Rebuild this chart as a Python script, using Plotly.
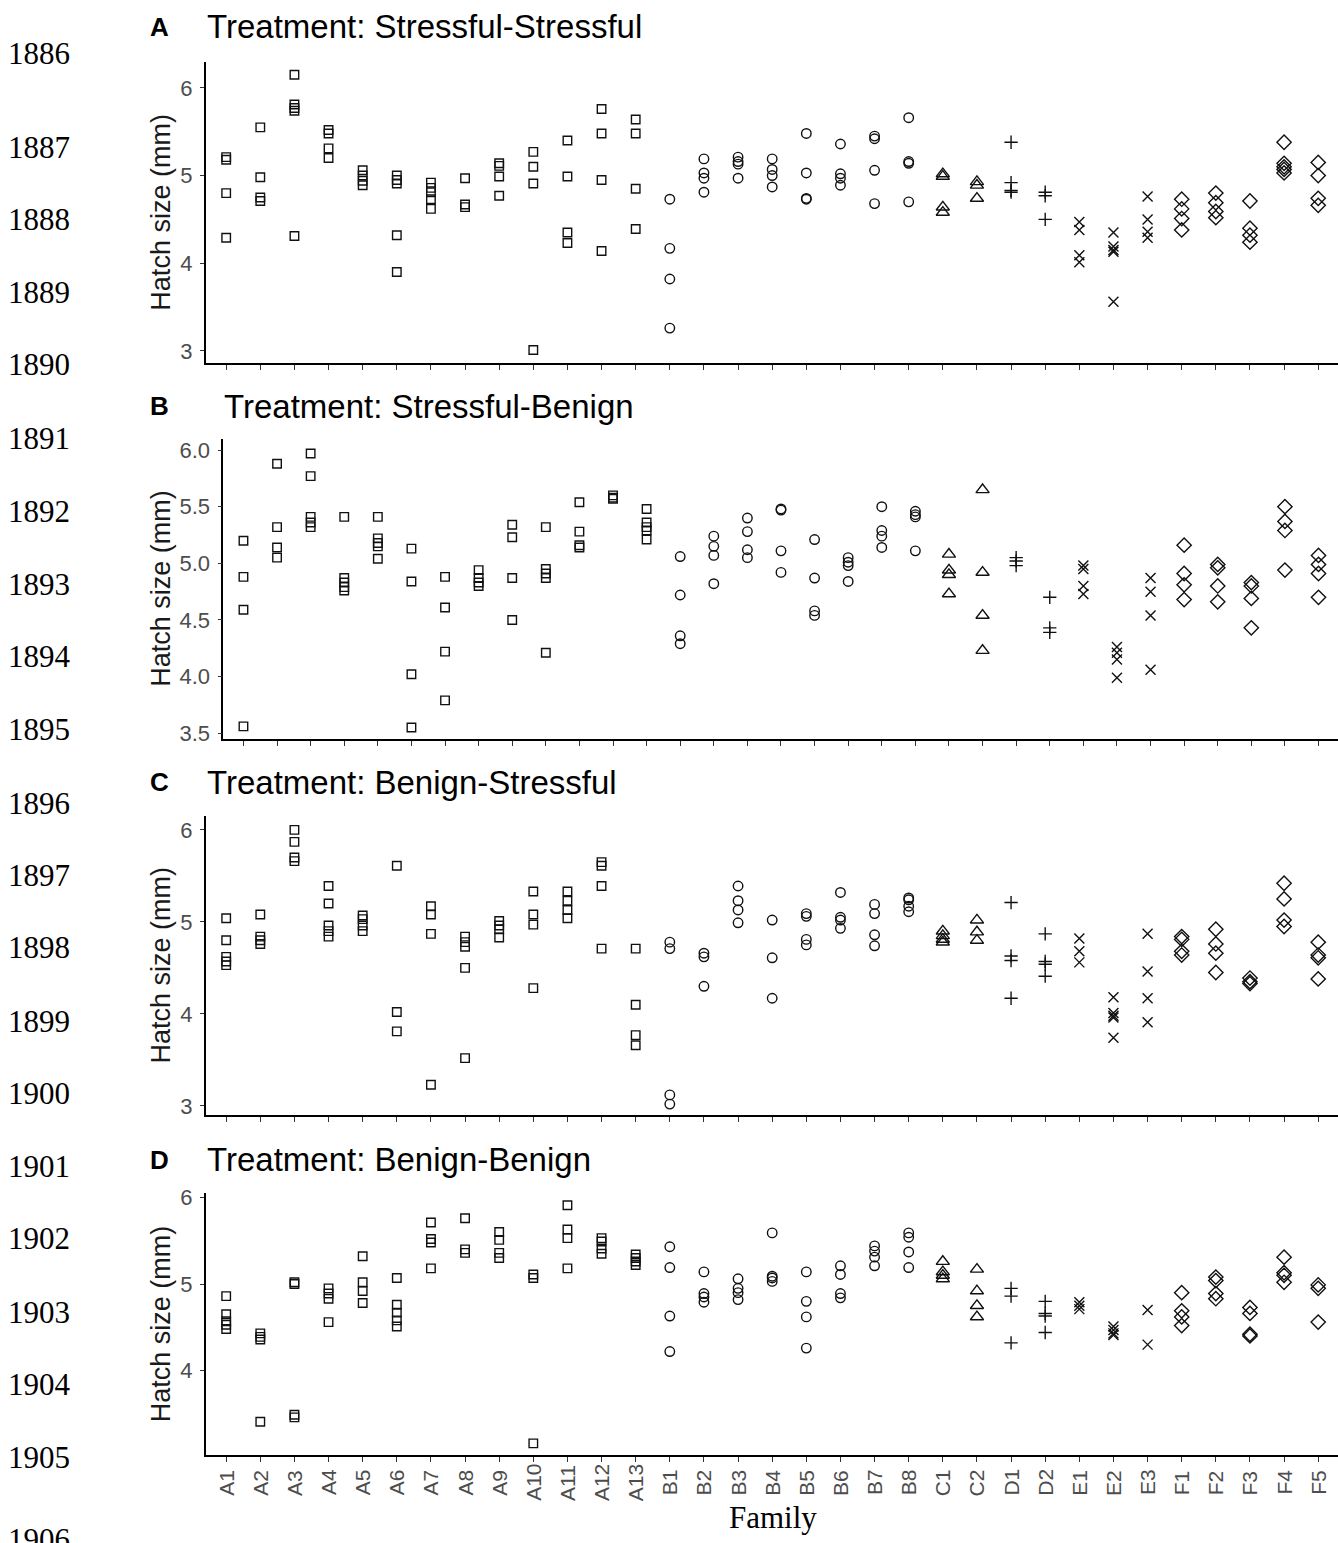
import plotly.graph_objects as go

W, H = 1338, 1543

families = ["A1", "A2", "A3", "A4", "A5", "A6", "A7", "A8", "A9", "A10", "A11", "A12", "A13",
            "B1", "B2", "B3", "B4", "B5", "B6", "B7", "B8",
            "C1", "C2", "D1", "D2", "E1", "E2", "E3",
            "F1", "F2", "F3", "F4", "F5"]

# Hatch size (mm) of each hatchling, per family, for each treatment
stressful_stressful = {
    "A1": [5.21, 5.18, 4.80, 4.29], "A2": [5.55, 4.98, 4.75, 4.71],
    "A3": [6.15, 5.81, 5.77, 5.74, 4.31], "A4": [5.52, 5.48, 5.31, 5.20],
    "A5": [5.06, 5.00, 4.94, 4.89], "A6": [5.00, 4.95, 4.91, 4.32, 3.90],
    "A7": [4.92, 4.86, 4.81, 4.73, 4.62], "A8": [4.97, 4.67, 4.64],
    "A9": [5.14, 5.11, 4.99, 4.77], "A10": [5.27, 5.10, 4.91, 3.01],
    "A11": [5.40, 4.99, 4.35, 4.23], "A12": [5.76, 5.48, 4.95, 4.14],
    "A13": [5.64, 5.48, 4.85, 4.39],
    "B1": [4.73, 4.17, 3.82, 3.26], "B2": [5.19, 5.03, 4.97, 4.81],
    "B3": [5.21, 5.16, 5.13, 4.97], "B4": [5.19, 5.07, 5.00, 4.87],
    "B5": [5.48, 5.03, 4.74, 4.73], "B6": [5.36, 5.02, 4.97, 4.89],
    "B7": [5.45, 5.42, 5.06, 4.68], "B8": [5.66, 5.16, 5.14, 4.70],
    "C1": [5.02, 4.99, 4.64, 4.58], "C2": [4.93, 4.89, 4.74],
    "D1": [5.38, 4.92, 4.83, 4.81], "D2": [4.81, 4.77, 4.50],
    "E1": [4.47, 4.38, 4.09, 4.01], "E2": [4.35, 4.19, 4.15, 4.13, 3.56],
    "E3": [4.76, 4.50, 4.36, 4.29],
    "F1": [4.73, 4.62, 4.51, 4.38], "F2": [4.80, 4.69, 4.59, 4.52],
    "F3": [4.71, 4.40, 4.32, 4.24], "F4": [5.38, 5.14, 5.10, 5.07, 5.03],
    "F5": [5.15, 5.00, 4.74, 4.66],
}

stressful_benign = {
    "A1": [5.20, 4.88, 4.59, 3.56], "A2": [5.88, 5.32, 5.14, 5.05],
    "A3": [5.97, 5.77, 5.41, 5.36, 5.32], "A4": [5.41, 4.87, 4.83, 4.79, 4.76],
    "A5": [5.41, 5.22, 5.18, 5.15, 5.04], "A6": [5.13, 4.84, 4.02, 3.55],
    "A7": [4.88, 4.61, 4.22, 3.79], "A8": [4.94, 4.87, 4.83, 4.80],
    "A9": [5.34, 5.23, 4.87, 4.50], "A10": [5.32, 4.95, 4.91, 4.87, 4.21],
    "A11": [5.54, 5.28, 5.16, 5.14], "A12": [5.60, 5.58, 5.57],
    "A13": [5.48, 5.36, 5.32, 5.29, 5.21],
    "B1": [5.06, 4.72, 4.36, 4.29], "B2": [5.24, 5.15, 5.07, 4.82],
    "B3": [5.40, 5.28, 5.12, 5.05], "B4": [5.48, 5.47, 5.11, 4.92],
    "B5": [5.21, 4.87, 4.58, 4.54], "B6": [5.05, 5.01, 4.98, 4.84],
    "B7": [5.50, 5.29, 5.24, 5.14], "B8": [5.46, 5.43, 5.41, 5.11],
    "C1": [5.08, 4.94, 4.90, 4.73], "C2": [5.65, 4.92, 4.54, 4.23],
    "D1": [5.05, 5.02, 4.98], "D2": [4.70, 4.43, 4.39],
    "E1": [4.98, 4.95, 4.80, 4.73], "E2": [4.26, 4.21, 4.15, 3.99],
    "E3": [4.87, 4.75, 4.54, 4.06],
    "F1": [5.16, 4.91, 4.81, 4.68], "F2": [4.99, 4.96, 4.80, 4.66],
    "F3": [4.83, 4.80, 4.69, 4.43], "F4": [5.50, 5.37, 5.29, 4.94],
    "F5": [5.07, 4.99, 4.91, 4.70],
}

benign_stressful = {
    "A1": [5.04, 4.80, 4.62, 4.57, 4.53], "A2": [5.08, 4.84, 4.80, 4.76],
    "A3": [6.00, 5.87, 5.70, 5.66], "A4": [5.39, 5.20, 4.96, 4.90, 4.84],
    "A5": [5.07, 5.03, 4.96, 4.90], "A6": [5.61, 4.02, 3.81],
    "A7": [5.17, 5.08, 4.87, 3.23], "A8": [4.84, 4.78, 4.73, 4.50, 3.52],
    "A9": [5.01, 4.96, 4.92, 4.83], "A10": [5.33, 5.08, 4.97, 4.28],
    "A11": [5.33, 5.23, 5.13, 5.04], "A12": [5.65, 5.61, 5.39, 4.71],
    "A13": [4.71, 4.10, 3.77, 3.66],
    "B1": [4.78, 4.71, 3.12, 3.02], "B2": [4.66, 4.62, 4.30],
    "B3": [5.39, 5.23, 5.13, 4.99], "B4": [5.02, 4.61, 4.17],
    "B5": [5.09, 5.06, 4.81, 4.75], "B6": [5.32, 5.05, 5.02, 4.93],
    "B7": [5.19, 5.09, 4.86, 4.74], "B8": [5.26, 5.24, 5.17, 5.11],
    "C1": [4.90, 4.85, 4.81, 4.78], "C2": [5.02, 4.89, 4.80],
    "D1": [5.21, 4.63, 4.58, 4.17], "D2": [4.87, 4.57, 4.54, 4.41],
    "E1": [4.82, 4.68, 4.56], "E2": [4.18, 4.01, 3.98, 3.96, 3.74],
    "E3": [4.87, 4.46, 4.17, 3.91],
    "F1": [4.84, 4.81, 4.68, 4.64], "F2": [4.92, 4.76, 4.66, 4.45],
    "F3": [4.39, 4.35, 4.33], "F4": [5.42, 5.25, 5.02, 4.95],
    "F5": [4.78, 4.64, 4.61, 4.38],
}

benign_benign = {
    "A1": [4.86, 4.65, 4.57, 4.53, 4.48], "A2": [4.43, 4.39, 4.36, 3.41],
    "A3": [5.02, 5.00, 3.49, 3.46], "A4": [4.95, 4.89, 4.83, 4.56],
    "A5": [5.32, 5.02, 4.92, 4.78], "A6": [5.07, 4.76, 4.67, 4.58, 4.51],
    "A7": [5.71, 5.52, 5.48, 5.18], "A8": [5.76, 5.40, 5.36],
    "A9": [5.60, 5.51, 5.36, 5.30], "A10": [5.11, 5.07, 3.16],
    "A11": [5.91, 5.63, 5.53, 5.18], "A12": [5.53, 5.49, 5.41, 5.35],
    "A13": [5.34, 5.30, 5.26, 5.22],
    "B1": [5.43, 5.19, 4.63, 4.22], "B2": [5.14, 4.89, 4.85, 4.79],
    "B3": [5.06, 4.95, 4.90, 4.82], "B4": [5.59, 5.09, 5.07, 5.03],
    "B5": [5.14, 4.80, 4.62, 4.26], "B6": [5.21, 5.11, 4.89, 4.84],
    "B7": [5.44, 5.38, 5.31, 5.21], "B8": [5.59, 5.54, 5.37, 5.19],
    "C1": [5.26, 5.14, 5.10, 5.06], "C2": [5.17, 4.92, 4.75, 4.62],
    "D1": [4.95, 4.86, 4.32], "D2": [4.80, 4.66, 4.63, 4.44],
    "E1": [4.79, 4.75, 4.71], "E2": [4.51, 4.47, 4.43, 4.41],
    "E3": [4.70, 4.30],
    "F1": [4.90, 4.69, 4.62, 4.52], "F2": [5.08, 5.04, 4.89, 4.83],
    "F3": [4.73, 4.66, 4.42, 4.40], "F4": [5.31, 5.13, 5.10, 5.02],
    "F5": [4.99, 4.95, 4.56],
}

panel_letters = ["A", "B", "C", "D"]
panel_titles = ["Treatment: Stressful-Stressful", "Treatment: Stressful-Benign",
                "Treatment: Benign-Stressful", "Treatment: Benign-Benign"]
panel_data = [stressful_stressful, stressful_benign, benign_stressful, benign_benign]
y_ticks = [[3, 4, 5, 6], [3.5, 4.0, 4.5, 5.0, 5.5, 6.0], [3, 4, 5, 6], [4, 5, 6]]
y_tickfmt = ["d", ".1f", "d", "d"]
y_limits = [[2.864, 6.29], [3.45, 6.10], [2.90, 6.15], [3.02, 6.05]]

line_numbers = list(range(1886, 1907))

# layout geometry (pixels from the top-left corner)
frames = [(205.7, 55, 358.3), (223.3, 435, 738), (205.7, 816, 1118), (205.7, 1196.7, 1461.7)]
title_y = [19, 402, 782, 1163]
line_number_y = [46, 141, 214, 287, 360, 435, 508, 582, 655, 729, 803, 876, 949,
                 1023, 1096, 1170, 1243, 1317, 1390, 1464, 1547]

symbols = {"A": ("square-open", 8.5), "B": ("circle-open", 9.5), "C": ("triangle-up-open", 11.5),
           "D": ("cross-thin-open", 9.5), "E": ("x-thin-open", 10), "F": ("diamond-open", 11)}

SANS = "Liberation Sans, Arial, sans-serif"
SERIF = "Liberation Serif, Times New Roman, serif"
INK = "#1a1a1a"
GREY = "#4d4d4d"

fig = go.Figure()
layout = dict(width=W, height=H, margin=dict(l=0, r=0, t=0, b=0),
              paper_bgcolor="white", plot_bgcolor="white", showlegend=False)
annotations = []

def px_x(v):
    return v / W

def px_y(v):
    return 1 - v / H

for i, (data, (left, top, bottom)) in enumerate(zip(panel_data, frames)):
    n = i + 1
    xa = "x" if n == 1 else f"x{n}"
    ya = "y" if n == 1 else f"y{n}"
    for grp, (sym, size) in symbols.items():
        xs, ys = [], []
        for fam in families:
            if fam[0] != grp:
                continue
            vals = data.get(fam, [])
            xs += [fam] * len(vals)
            ys += vals
        fig.add_trace(go.Scatter(
            x=xs, y=ys, mode="markers", xaxis=xa, yaxis=ya,
            marker=dict(symbol=sym, size=size, color="#111111",
                        line=dict(color="#111111", width=1.4)),
            hoverinfo="x+y"))

    layout["xaxis" if n == 1 else f"xaxis{n}"] = dict(
        domain=[px_x(left), 1.0], anchor=ya, type="category",
        categoryorder="array", categoryarray=families, range=[-0.6, 32.58],
        showline=True, linecolor="black", linewidth=1.6,
        ticks="outside", ticklen=5, tickwidth=1.3, tickcolor="#333333",
        showticklabels=False, showgrid=False, zeroline=False)
    layout["yaxis" if n == 1 else f"yaxis{n}"] = dict(
        domain=[px_y(bottom), px_y(top)], anchor=xa, range=y_limits[i],
        tickvals=y_ticks[i], tickformat=y_tickfmt[i],
        showline=True, linecolor="black", linewidth=1.6,
        ticks="outside", ticklen=4, tickwidth=1.3, tickcolor="#333333",
        ticklabelstandoff=3,
        tickfont=dict(family=SANS, size=22, color=GREY),
        showgrid=False, zeroline=False)

    # panel letter and treatment title
    annotations.append(dict(text="<b>%s</b>" % panel_letters[i], x=px_x(159), y=px_y(title_y[i]),
                            xref="paper", yref="paper", xanchor="center", yanchor="middle",
                            showarrow=False, font=dict(family=SANS, size=26, color="black")))
    annotations.append(dict(text=panel_titles[i], x=px_x(left - 1), y=px_y(title_y[i]),
                            xref="paper", yref="paper", xanchor="left", yanchor="middle",
                            showarrow=False, font=dict(family=SANS, size=33, color="black")))
    # y axis title
    annotations.append(dict(text="Hatch size (mm)", x=px_x(161), y=px_y((top + bottom) / 2),
                            xref="paper", yref="paper", xanchor="center", yanchor="middle",
                            textangle=-90, showarrow=False,
                            font=dict(family=SANS, size=27, color=INK)))

# family labels along the bottom panel, centred under each tick
for fam in families:
    annotations.append(dict(text=fam, x=fam, xref="x4", y=px_y(1489), yref="paper",
                            xanchor="center", yanchor="middle", textangle=-90, showarrow=False,
                            font=dict(family=SANS, size=21, color=GREY)))

annotations.append(dict(text="Family", x=px_x(772.6), y=px_y(1524), xref="paper", yref="paper",
                        xanchor="center", yanchor="middle", showarrow=False,
                        font=dict(family=SERIF, size=31, color="black")))

# manuscript line numbers in the left margin
for num, ly in zip(line_numbers, line_number_y):
    annotations.append(dict(text=str(num), x=px_x(6), y=px_y(ly),
                            xref="paper", yref="paper", xanchor="left", yanchor="middle",
                            showarrow=False, font=dict(family=SERIF, size=31, color="black")))

layout["annotations"] = annotations
fig.update_layout(**layout)
fig.write_html("out.html")
